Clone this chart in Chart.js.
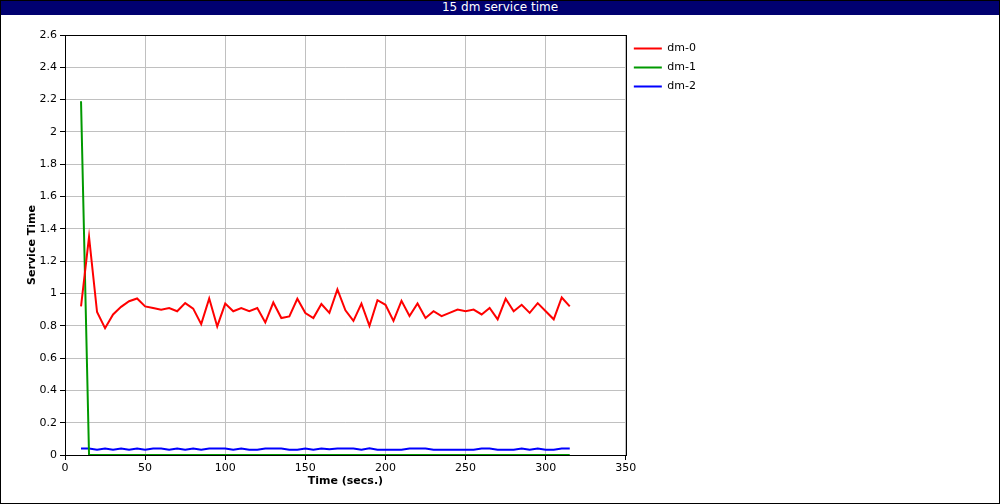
<!DOCTYPE html>
<html>
<head>
<meta charset="utf-8">
<script src="https://cdn.jsdelivr.net/npm/chart.js@4"></script>
<style>
  body { margin: 0; background: #fff; }
  #wrap { position: relative; width: 1000px; height: 504px; }
  #bar { position: absolute; left: 0; top: 0; width: 1000px; height: 15px; background: #000070;
         color: #fff; font: 12px "DejaVu Sans", sans-serif; text-align: center; line-height: 15px; }
  #frame { position: absolute; left: 0; top: 0; width: 1000px; height: 504px; box-sizing: border-box;
           border: 1px solid #000; pointer-events: none; }
  canvas { position: absolute; left: 0; top: 0; }
</style>
</head>
<body>
<div id="wrap">
  <canvas id="graph" width="1000" height="504"></canvas>
  <div id="bar">15 dm service time</div>
  <div id="frame"></div>
</div>
<script>
// sample times (secs.)
var times = [];
for (var t = 10; t <= 315; t += 5) times.push(t);

var dm0 = [0.92, 1.35, 0.885, 0.785, 0.87, 0.917, 0.952, 0.969, 0.92, 0.91,
           0.90, 0.91, 0.89, 0.94, 0.906, 0.81, 0.969, 0.796, 0.9375, 0.89,
           0.91, 0.89, 0.91, 0.82, 0.944, 0.848, 0.858, 0.967, 0.879, 0.848,
           0.935, 0.88, 1.025, 0.896, 0.83, 0.9375, 0.80, 0.958, 0.93, 0.83,
           0.954, 0.86, 0.9375, 0.848, 0.89, 0.86, 0.88, 0.90, 0.89, 0.90,
           0.87, 0.91, 0.84, 0.967, 0.89, 0.93, 0.88, 0.94, 0.89, 0.84,
           0.975, 0.92];
var dm1 = [2.19, 0, 0, 0, 0, 0, 0, 0, 0, 0,
           0, 0, 0, 0, 0, 0, 0, 0, 0, 0,
           0, 0, 0, 0, 0, 0, 0, 0, 0, 0,
           0, 0, 0, 0, 0, 0, 0, 0, 0, 0,
           0, 0, 0, 0, 0, 0, 0, 0, 0, 0,
           0, 0, 0, 0, 0, 0, 0, 0, 0, 0,
           0, 0];
var dm2 = [0.04, 0.04, 0.033, 0.04, 0.033, 0.04, 0.033, 0.04, 0.033, 0.04,
           0.04, 0.033, 0.04, 0.033, 0.04, 0.033, 0.04, 0.04, 0.04, 0.033,
           0.04, 0.033, 0.033, 0.04, 0.04, 0.04, 0.033, 0.033, 0.04, 0.033,
           0.04, 0.035, 0.04, 0.04, 0.04, 0.033, 0.042, 0.033, 0.033, 0.033,
           0.033, 0.04, 0.04, 0.04, 0.033, 0.033, 0.033, 0.033, 0.033, 0.033,
           0.04, 0.04, 0.033, 0.033, 0.033, 0.04, 0.033, 0.04, 0.033, 0.033,
           0.04, 0.04];

var seriesNames = ['dm-0', 'dm-1', 'dm-2'];
var seriesColors = ['#ff0000', '#009900', '#0000ff'];
var seriesData = [dm0, dm1, dm2];

function pts(vals) {
  return vals.map(function (v, i) { return { x: times[i], y: v }; });
}

var FONT = "'DejaVu Sans', sans-serif";

// black frame around plot area
var boxPlugin = {
  id: 'box',
  afterDatasetsDraw: function (chart) {
    var a = chart.chartArea, ctx = chart.ctx;
    ctx.save();
    ctx.strokeStyle = '#000';
    ctx.lineWidth = 1;
    ctx.strokeRect(Math.round(a.left) + 0.5, Math.round(a.top) + 0.5,
                   Math.round(a.right - a.left), Math.round(a.bottom - a.top));
    ctx.restore();
  }
};

new Chart(document.getElementById('graph'), {
  type: 'line',
  data: {
    datasets: seriesNames.map(function (n, i) {
      return {
        label: n,
        data: pts(seriesData[i]),
        borderColor: seriesColors[i],
        backgroundColor: seriesColors[i],
        borderWidth: 2,
        pointRadius: 0,
        tension: 0,
        clip: 4
      };
    })
  },
  options: {
    responsive: false,
    animation: false,
    layout: { padding: { left: 0, top: 35, right: 294, bottom: 0 } },
    plugins: {
      title: { display: false },
      tooltip: { enabled: false },
      legend: {
        position: 'right',
        align: 'start',
        labels: {
          usePointStyle: true,
          pointStyle: 'line',
          pointStyleWidth: 28,
          boxHeight: 10,
          padding: 8,
          color: '#000',
          font: { family: FONT, size: 11 }
        }
      }
    },
    scales: {
      x: {
        type: 'linear',
        min: 0, max: 350,
        ticks: { stepSize: 50, color: '#000', font: { family: FONT, size: 11 }, padding: 2, maxRotation: 0 },
        grid: { color: '#c0c0c0', tickColor: '#000', tickLength: 5 },
        border: { color: '#000' },
        title: { display: true, text: 'Time (secs.)', color: '#000',
                 font: { family: FONT, size: 11, weight: 'bold' }, padding: { top: 0, bottom: 16 } },
        afterFit: function (s) { s.height = 49; }
      },
      y: {
        min: 0, max: 2.6,
        ticks: {
          stepSize: 0.2, color: '#000', font: { family: FONT, size: 11 }, padding: 3,
          callback: function (v) { return String(Number(v.toFixed(1))); }
        },
        grid: { color: '#c0c0c0', tickColor: '#000', tickLength: 5 },
        border: { color: '#000' },
        title: { display: true, text: 'Service Time', color: '#000',
                 font: { family: FONT, size: 11, weight: 'bold' }, padding: { top: 26, bottom: 0 } },
        afterFit: function (s) { s.width = 65; }
      }
    }
  },
  plugins: [boxPlugin]
});
</script>
</body>
</html>
